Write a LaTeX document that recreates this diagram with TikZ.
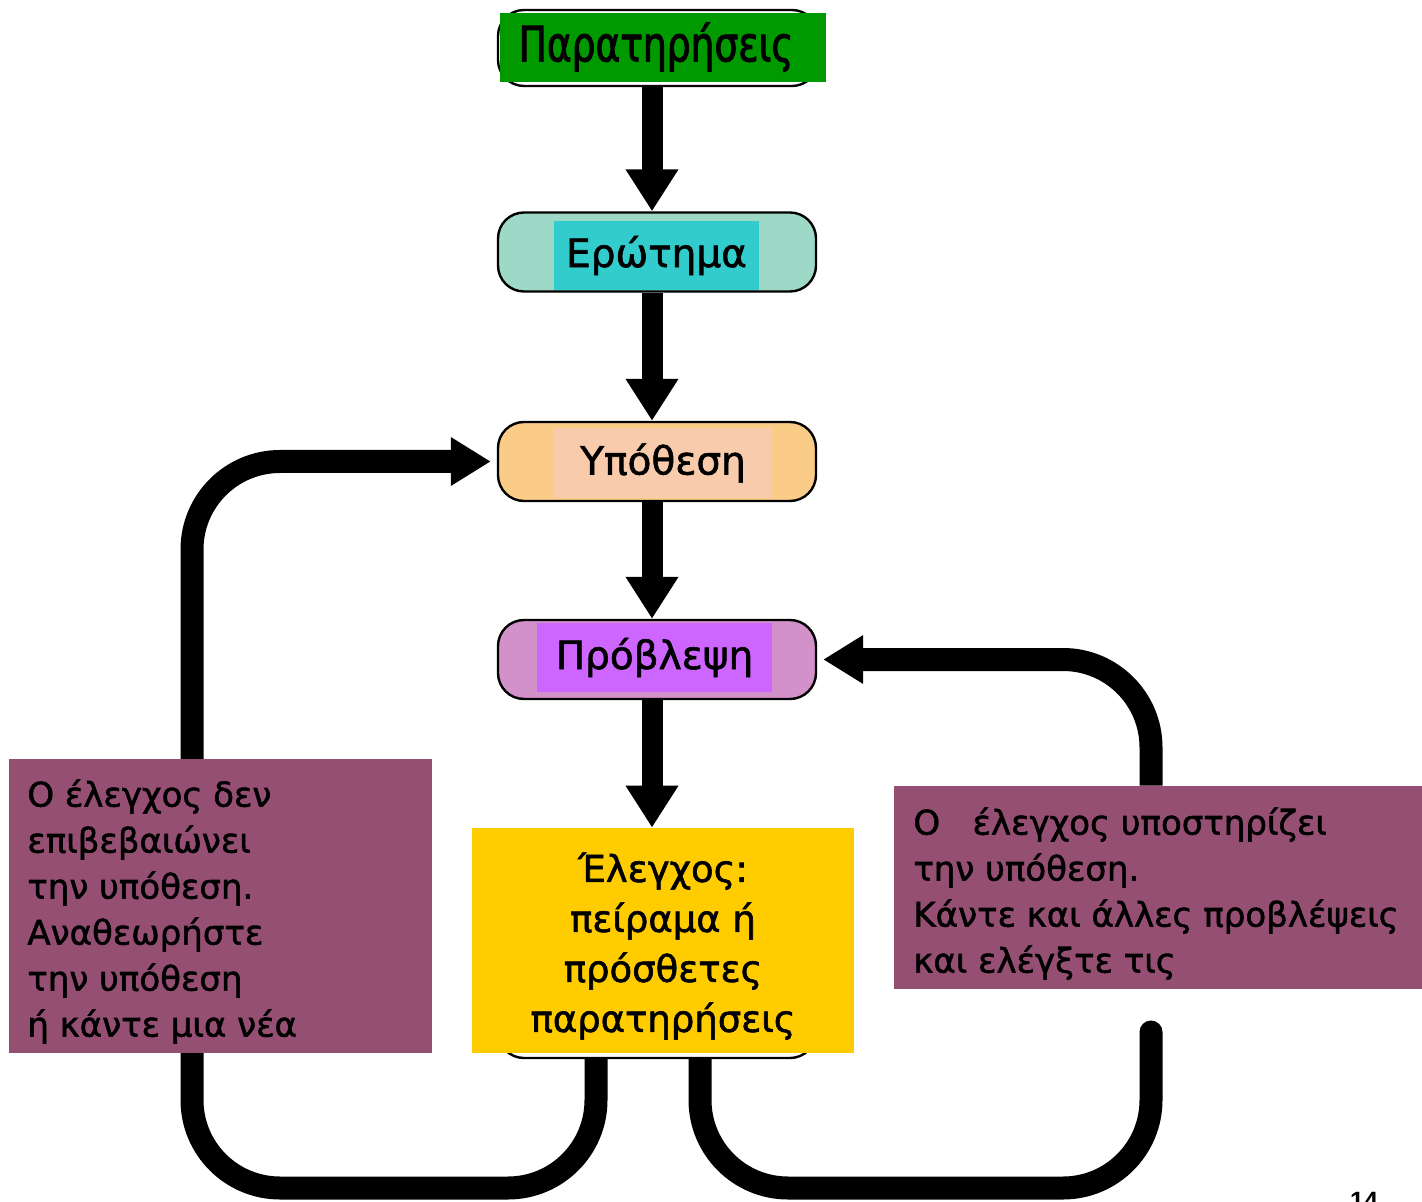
\documentclass[tikz,border=0pt]{standalone}
\usepackage{fontspec}
\setmainfont{DejaVu Sans}[FakeBold=1.6]
\newfontfamily\titlefont{DejaVu Sans}[FakeStretch=0.77,FakeBold=1.8]
\newfontfamily\numfont{Liberation Sans}
\usetikzlibrary{arrows.meta}
\pgfdeclarelayer{background}
\pgfdeclarelayer{bottom}
\pgfsetlayers{bottom,background,main}
\definecolor{cgreen}{RGB}{0,153,0}
\definecolor{tealout}{RGB}{158,217,200}
\definecolor{tealin}{RGB}{51,204,204}
\definecolor{orout}{RGB}{251,204,135}
\definecolor{orin}{RGB}{248,203,173}
\definecolor{puout}{RGB}{210,145,200}
\definecolor{puin}{RGB}{204,102,255}
\definecolor{cyell}{RGB}{255,204,0}
\definecolor{plum}{RGB}{149,79,114}
\begin{document}
\begin{tikzpicture}[x=0.5pt,y=-0.5pt,
  pill/.style={draw=black, line width=1.2pt, rounded corners=13pt, minimum width=159pt, minimum height=39.5pt, inner sep=0pt},
  innerbox/.style={inner sep=0pt, font=\fontsize{19.5}{23}\selectfont},
  flow/.style={line width=10.5pt, -{Triangle[width=25pt,length=21pt]}},
  loopline/.style={line width=11.5pt, rounded corners=44pt},
  loophead/.style={-{Triangle[width=23pt,length=20pt]}, shorten >=3pt},
  plumbox/.style={fill=plum, inner sep=0pt},
  plumtext/.style={anchor=north west, inner sep=0pt, align=left, font=\fontsize{17}{23}\selectfont}
]
\begin{pgfonlayer}{bottom}
\fill[white] (0,0) rectangle (1422,1202);
\end{pgfonlayer}
\useasboundingbox (0,0) rectangle (1422,1202);

% helper coordinates
\coordinate (ax) at (652,0);
\coordinate (lx) at (596,0);
\coordinate (rx) at (700,0);
\coordinate (bx) at (1151,0);
\coordinate (lv) at (192,0);
\coordinate (by) at (0,1188);
\coordinate (rend) at (1151,1032);

% stage boxes
\node[pill, fill=white, minimum width=160pt, minimum height=38pt] (N1) at (658,48) {};
\node[fill=cgreen, inner sep=0pt, minimum width=163pt, minimum height=34.5pt] (G) at (663,47.5) {};
\node[inner sep=0pt, font=\titlefont\fontsize{24.4}{28}\selectfont] (Gt) at (656,47) {Παρατηρήσεις};

\node[pill, fill=tealout] (N2) at (657,252) {};
\node[innerbox, fill=tealin, minimum width=102.5pt, minimum height=34.5pt] (E) at (656.5,255.5) {Ερώτημα};

\node[pill, fill=orout] (N3) at (657,461.5) {};
\node[innerbox, fill=orin, minimum width=109pt, minimum height=35pt] (H) at (663,463) {Υπόθεση};

\node[pill, fill=puout] (N4) at (657,659.5) {};
\node[innerbox, fill=puin, minimum width=117.5pt, minimum height=34.5pt] (P) at (654.5,657.5) {Πρόβλεψη};

\node[pill, fill=white, minimum height=39pt] (T0) at (657,1019) {};
\node[fill=cyell, minimum width=191pt, minimum height=112.5pt, inner sep=0pt] (Y) at (663,940.5) {};
\node[inner sep=0pt, align=center, font=\fontsize{18.5}{25}\selectfont] (Yt) at (663,946) {Έλεγχος:\\πείραμα ή\\πρόσθετες\\παρατηρήσεις};

% feedback boxes
\node[plumbox, minimum width=211.5pt, minimum height=147pt] (L) at (220.5,906) {};
\node[plumtext] (Lt) at (27,779) {Ο έλεγχος δεν\\επιβεβαιώνει\\την υπόθεση.\\Αναθεωρήστε\\την υπόθεση\\ή κάντε μια νέα};
\node[plumbox, minimum width=265pt, minimum height=101.5pt] (R) at (1158.5,887.5) {};
\node[plumtext] (Rt) at (913,807) {Ο\ \ \ έλεγχος υποστηρίζει\\την υπόθεση.\\Κάντε και άλλες προβλέψεις\\και ελέγξτε τις};

% page number (cut by the page edge, as in the source)
\node[anchor=base, inner sep=0pt, font=\numfont\bfseries\fontsize{12.5}{15}\selectfont] (pg) at (1364,1209) {14};

% connectors behind the boxes
\begin{pgfonlayer}{background}
\draw[flow] (N1.south -| ax) -- (N2.north -| ax);
\draw[flow] (N2.south -| ax) -- (N3.north -| ax);
\draw[flow] (N3.south -| ax) -- (N4.north -| ax);
\draw[flow] (N4.south -| ax) -- (Y.north -| ax);
\draw[loopline, loophead] (T0.south -| lx) -- (lx |- by) -- (lv |- by) -- (lv |- N3.west) -- (N3.west);
\draw[loopline, line cap=round] (T0.south -| rx) -- (rx |- by) -- (rend |- by) -- (rend);
\draw[loopline, loophead] (R.north -| bx) -- (bx |- N4.east) -- (N4.east);
\end{pgfonlayer}
\end{tikzpicture}
\end{document}
